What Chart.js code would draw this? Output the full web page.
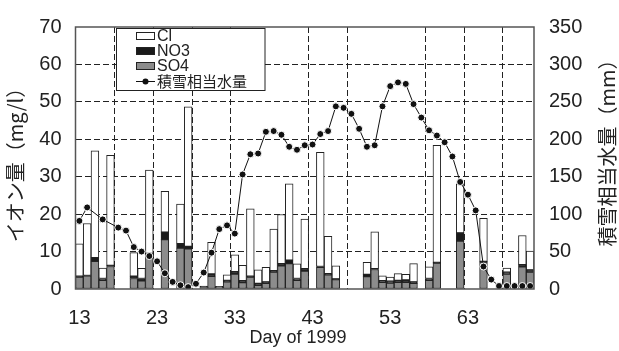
<!DOCTYPE html>
<html><head><meta charset="utf-8">
<script src="https://cdn.jsdelivr.net/npm/chart.js@4"></script>
<style>html,body{margin:0;padding:0;background:#fff}</style>
</head><body>
<canvas id="c" width="619" height="351"></canvas>
<script>
// ---- data ----
const days = [13,14,15,16,17,18,19,20,21,22,23,24,25,26,27,28,29,30,31,32,33,34,35,36,37,38,39,40,41,42,43,44,45,46,47,48,49,50,51,52,53,54,55,56,57,58,59,60,61,62,63,64,65,66,67,68,69,70,71];
const tickDays = [13,23,33,43,53,63];
const so4 = [3.2,3.5,7.4,2.3,6.0,null,null,2.8,2.2,9.3,null,13.2,null,10.9,10.7,null,0.4,3.4,0.5,1.9,4.0,1.7,3.2,1.0,1.5,4.5,6.2,6.8,2.3,4.8,null,5.8,3.8,2.5,null,null,null,3.3,5.2,1.8,1.6,1.8,1.8,1.5,null,2.3,6.9,null,null,12.8,null,null,7.2,null,null,4.0,null,5.9,4.5];
const no3 = [0.2,0.1,1.0,0.5,0.3,null,null,0.6,0.6,0.2,null,2.0,null,1.2,0.7,null,0.4,0.6,0.2,0.4,0.6,0.5,0.2,0.5,0.4,0.4,0.6,0.9,0.5,0.6,null,0.2,0.3,0.2,null,null,null,0.6,0.2,0.4,0.5,0.5,0.6,0.4,null,0.5,0.2,null,null,2.2,null,null,0.2,null,null,0.5,null,0.6,0.6];
const cl  = [8.7,13.9,28.5,2.8,29.4,null,null,6.3,2.7,22.3,null,10.9,null,10.6,37.3,null,null,8.5,null,1.5,4.5,4.1,18.0,3.6,3.9,11.1,13.1,20.4,3.9,13.3,null,30.5,10.0,3.5,null,null,null,3.2,9.9,1.3,1.1,1.8,1.5,4.9,null,3.1,31.3,null,null,13.1,null,null,11.5,null,null,1.1,null,7.8,5.0];
const swe = [91,109,null,93,null,82,78,56,50,44,37,21,9.5,5,2.5,7,22,48.5,80,85,74,153,180,181,210,211,206,190,186,192,193,207,211,244,242,234,214,190,192,244,271,276,274,247,229,212,205,196,177,143,126,105,30,12.6,4,4,4,4,4];
const leftTicks = [0,10,20,30,40,50,60,70];
const rightTicks = [0,50,100,150,200,250,300,350];
const seriesNames = ['Cl','NO3','SO4','積雪相当水量'];
const xTitle = 'Day of 1999';
const yTitle = 'イオン量（mg/l）';
const y2Title = '積雪相当水量（mm）';
const skipGrid = [25, 40];

const TXT = '#222';
const LAT = '"Liberation Sans", Arial, sans-serif';
const CJK = '"Noto Sans CJK JP", sans-serif';

const overlay = {
  id: 'overlay',
  afterDraw(chart) {
    const ctx = chart.ctx, a = chart.chartArea;
    ctx.save();
    ctx.strokeStyle = '#555'; ctx.lineWidth = 1.5; ctx.setLineDash([]);
    ctx.strokeRect(a.left, a.top, a.right - a.left, a.bottom - a.top);
    ctx.fillStyle = TXT; ctx.textAlign = 'center'; ctx.textBaseline = 'middle';
    ctx.font = '18px ' + LAT;
    ctx.fillText(xTitle, 298, 338);
    ctx.save(); ctx.translate(15, 160); ctx.rotate(-Math.PI/2);
    ctx.font = '20px ' + CJK; ctx.fillText(yTitle, 0, 0); ctx.restore();
    ctx.save(); ctx.translate(607, 148); ctx.rotate(-Math.PI/2);
    ctx.font = '20px ' + CJK; ctx.fillText(y2Title, 0, 0); ctx.restore();
    // legend
    ctx.fillStyle = '#fff'; ctx.fillRect(116.5, 28.5, 148.5, 62);
    ctx.strokeStyle = '#222'; ctx.lineWidth = 1; ctx.strokeRect(116.5, 28.5, 148.5, 62);
    const sw = [['#fff', 36], ['#1a1a1a', 51], ['#8c8c8c', 66]];
    sw.forEach((s, i) => {
      ctx.fillStyle = s[0]; ctx.fillRect(136.5, s[1] - 3.5, 18, 7);
      ctx.strokeStyle = '#222'; ctx.strokeRect(136.5, s[1] - 3.5, 18, 7);
      ctx.fillStyle = TXT; ctx.textAlign = 'left'; ctx.font = '16px ' + LAT;
      ctx.fillText(seriesNames[i], 157, s[1] + 1);
    });
    ctx.strokeStyle = '#111'; ctx.beginPath(); ctx.moveTo(136, 81.5); ctx.lineTo(155, 81.5); ctx.stroke();
    ctx.fillStyle = '#111'; ctx.beginPath(); ctx.arc(145.5, 81.5, 3, 0, Math.PI*2); ctx.fill();
    ctx.fillStyle = TXT; ctx.font = '15px "Noto Sans CJK JP", sans-serif';
    ctx.fillText(seriesNames[3], 157, 81.5);
    ctx.restore();
  }
};

const barBase = {type: 'bar', borderColor: '#222', borderWidth: 1, borderSkipped: false,
  barPercentage: 1, categoryPercentage: 1, yAxisID: 'y', order: 1};

new Chart(document.getElementById('c'), {
  data: {
    labels: days.map(String),
    datasets: [
      Object.assign({}, barBase, {label: seriesNames[2], data: so4, backgroundColor: '#8c8c8c'}),
      Object.assign({}, barBase, {label: seriesNames[1], data: no3, backgroundColor: '#1a1a1a'}),
      Object.assign({}, barBase, {label: seriesNames[0], data: cl, backgroundColor: '#ffffff'}),
      {type: 'line', label: seriesNames[3], data: swe, yAxisID: 'y2', order: 0,
       borderColor: '#111', borderWidth: 1, spanGaps: true, tension: 0,
       pointRadius: 3.5, pointBackgroundColor: '#111', pointBorderColor: '#fff', pointBorderWidth: 1}
    ]
  },
  options: {
    responsive: false, animation: false, devicePixelRatio: 1,
    layout: {padding: {top: 20, left: 0, right: 0, bottom: 0}},
    plugins: {legend: {display: false}, tooltip: {enabled: false}},
    scales: {
      x: {
        stacked: true, offset: true,
        grid: {display: true, offset: true, drawTicks: false, lineWidth: 1,
          color: (c) => (c.index % 5 === 0 && c.index !== 0 && !skipGrid.includes(c.index)) ? '#222' : 'rgba(0,0,0,0)'},
        border: {display: false, dash: [6, 3]},
        ticks: {autoSkip: false, maxRotation: 0, padding: 17, color: TXT, font: {family: LAT, size: 20},
          callback: (v, i) => tickDays.includes(days[i]) ? String(days[i]) : ''},
        afterFit: (s) => { s.height = 62; }
      },
      y: {
        position: 'left', stacked: true, min: 0, max: 70,
        afterBuildTicks: (s) => { s.ticks = leftTicks.map(v => ({value: v})); },
        grid: {drawTicks: false, lineWidth: 1,
          color: (c) => (c.tick && c.tick.value > 0 && c.tick.value < 70) ? '#222' : 'rgba(0,0,0,0)'},
        border: {display: false, dash: [6, 3]},
        ticks: {padding: 14, color: TXT, font: {family: LAT, size: 20}},
        afterFit: (s) => { s.width = 75.5; }
      },
      y2: {
        position: 'right', min: 0, max: 350,
        afterBuildTicks: (s) => { s.ticks = rightTicks.map(v => ({value: v})); },
        grid: {display: false, drawTicks: false},
        border: {display: false},
        ticks: {padding: 15, color: TXT, font: {family: LAT, size: 20}},
        afterFit: (s) => { s.width = 85; }
      }
    }
  },
  plugins: [overlay]
});
</script>
</body></html>
